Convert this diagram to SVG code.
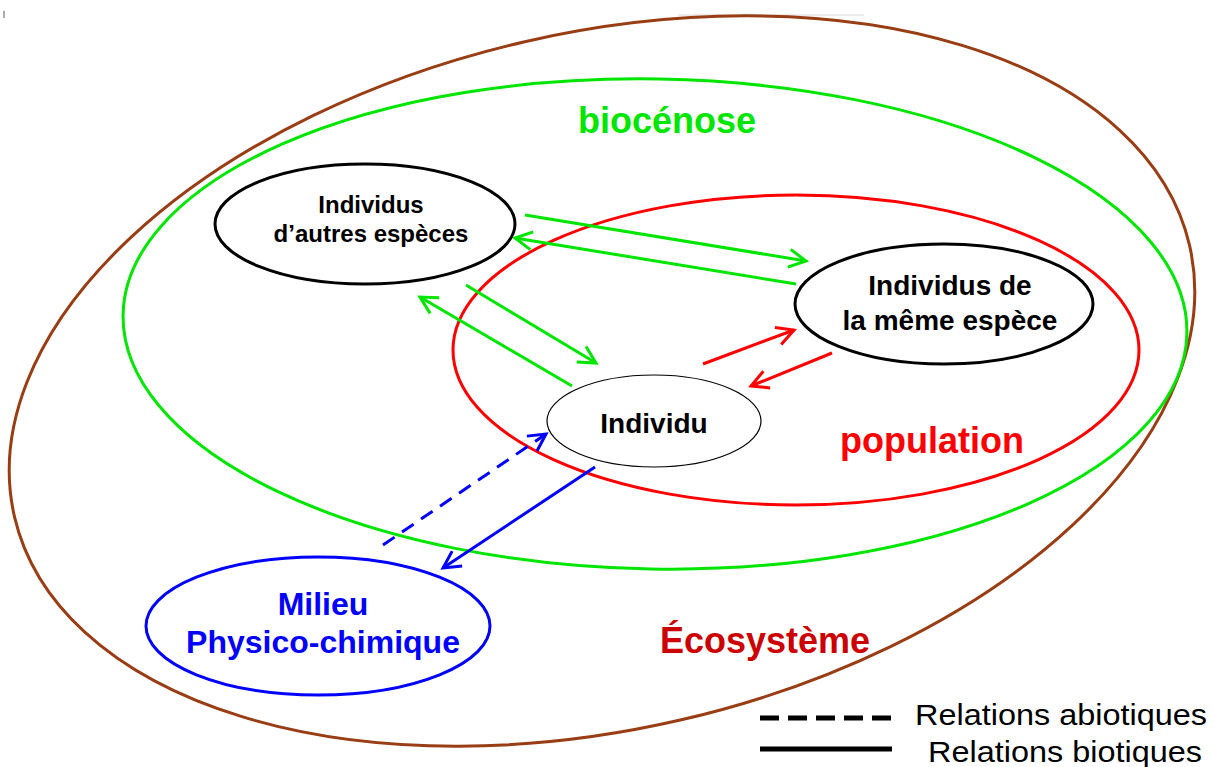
<svg xmlns="http://www.w3.org/2000/svg" width="1214" height="767" viewBox="0 0 1214 767">
  <style>
    .lbl { font-family: "Liberation Sans", Arial, sans-serif; font-weight: bold; text-anchor: middle; }
    .node { fill: #ffffff; stroke: #000000; stroke-width: 3; }
    .conn { fill: none; stroke-width: 3; }
    .g { stroke: #00e600; }
    .r { stroke: #ff0000; }
    .b { stroke: #0000ff; }
    .leg { font-family: "Liberation Sans", Arial, sans-serif; font-size: 30px; fill: #000000; }
  </style>
  <defs>
    <marker id="ag" markerUnits="userSpaceOnUse" markerWidth="24" markerHeight="24" refX="18" refY="10" orient="auto" overflow="visible">
      <path d="M1,1 L18,10 L1,19" fill="none" stroke="#00e600" stroke-width="3"/>
    </marker>
    <marker id="ar" markerUnits="userSpaceOnUse" markerWidth="24" markerHeight="24" refX="18" refY="10" orient="auto" overflow="visible">
      <path d="M1,1 L18,10 L1,19" fill="none" stroke="#ff0000" stroke-width="3"/>
    </marker>
    <marker id="ab" markerUnits="userSpaceOnUse" markerWidth="24" markerHeight="24" refX="18" refY="10" orient="auto" overflow="visible">
      <path d="M1,1 L18,10 L1,19" fill="none" stroke="#0000ff" stroke-width="3"/>
    </marker>
  </defs>
  <rect x="0" y="0" width="1214" height="767" fill="#ffffff"/>
  <line x1="4" y1="11" x2="4" y2="18" stroke="#aaaaaa" stroke-width="2"/>
  <line x1="678" y1="15" x2="864" y2="15" stroke="#d8d8d8" stroke-width="1"/>

  <g id="ecosysteme">
    <ellipse cx="602" cy="381" rx="603" ry="348" transform="rotate(-13 602 381)" fill="none" stroke="#993d14" stroke-width="3"/>
    <text class="lbl" x="765" y="653" font-size="36" fill="#cc0000">Écosystème</text>
  </g>
  <g id="biocenose">
    <ellipse cx="655" cy="324" rx="532" ry="245" transform="rotate(1 655 324)" fill="none" stroke="#00e600" stroke-width="3"/>
    <text class="lbl" x="667" y="133" font-size="36" fill="#00e600">biocénose</text>
  </g>
  <g id="population">
    <ellipse cx="796" cy="350" rx="343" ry="155" fill="none" stroke="#ff0000" stroke-width="3"/>
    <text class="lbl" x="932" y="453" font-size="36" fill="#ff0000">population</text>
  </g>

  <g id="connectors">
    <line class="conn g" x1="525" y1="215" x2="806" y2="261" marker-end="url(#ag)"/>
    <line class="conn g" x1="796" y1="284" x2="515" y2="238" marker-end="url(#ag)"/>
    <line class="conn g" x1="466" y1="285" x2="596" y2="363" marker-end="url(#ag)"/>
    <line class="conn g" x1="572" y1="386" x2="420" y2="297" marker-end="url(#ag)"/>
    <line class="conn r" x1="703" y1="364" x2="794" y2="330" marker-end="url(#ar)"/>
    <line class="conn r" x1="832" y1="353" x2="751" y2="386" marker-end="url(#ar)"/>
    <line class="conn b" x1="383" y1="545" x2="546" y2="434" stroke-dasharray="14 9" marker-end="url(#ab)"/>
    <line class="conn b" x1="595" y1="467" x2="443" y2="568" marker-end="url(#ab)"/>
  </g>

  <g id="autres-especes">
    <ellipse class="node" cx="365" cy="224" rx="150" ry="60"/>
    <text class="lbl" x="371" y="213" font-size="24" fill="#000000">Individus</text>
    <text class="lbl" x="371" y="242" font-size="24" fill="#000000">d’autres espèces</text>
  </g>
  <g id="meme-espece">
    <ellipse class="node" cx="944" cy="304" rx="149" ry="60"/>
    <text class="lbl" x="950" y="295" font-size="28" fill="#000000">Individus de</text>
    <text class="lbl" x="950" y="330" font-size="28" fill="#000000">la même espèce</text>
  </g>
  <g id="individu">
    <ellipse cx="654" cy="421" rx="107" ry="46" fill="#ffffff" stroke="#000000" stroke-width="1.2"/>
    <text class="lbl" x="654" y="433" font-size="28" fill="#000000">Individu</text>
  </g>
  <g id="milieu">
    <ellipse cx="318" cy="626" rx="172" ry="69" fill="#ffffff" stroke="#0000ff" stroke-width="3"/>
    <text class="lbl" x="323" y="615" font-size="32" fill="#0000ff">Milieu</text>
    <text class="lbl" x="323" y="653" font-size="32" fill="#0000ff">Physico-chimique</text>
  </g>

  <g id="legende">
    <line x1="760" y1="718" x2="892" y2="718" stroke="#000000" stroke-width="5" stroke-dasharray="19 9"/>
    <line x1="760" y1="749" x2="892" y2="749" stroke="#000000" stroke-width="5"/>
    <text class="leg" x="915" y="725" textLength="292" lengthAdjust="spacingAndGlyphs">Relations abiotiques</text>
    <text class="leg" x="928" y="762" textLength="274" lengthAdjust="spacingAndGlyphs">Relations biotiques</text>
  </g>
</svg>
